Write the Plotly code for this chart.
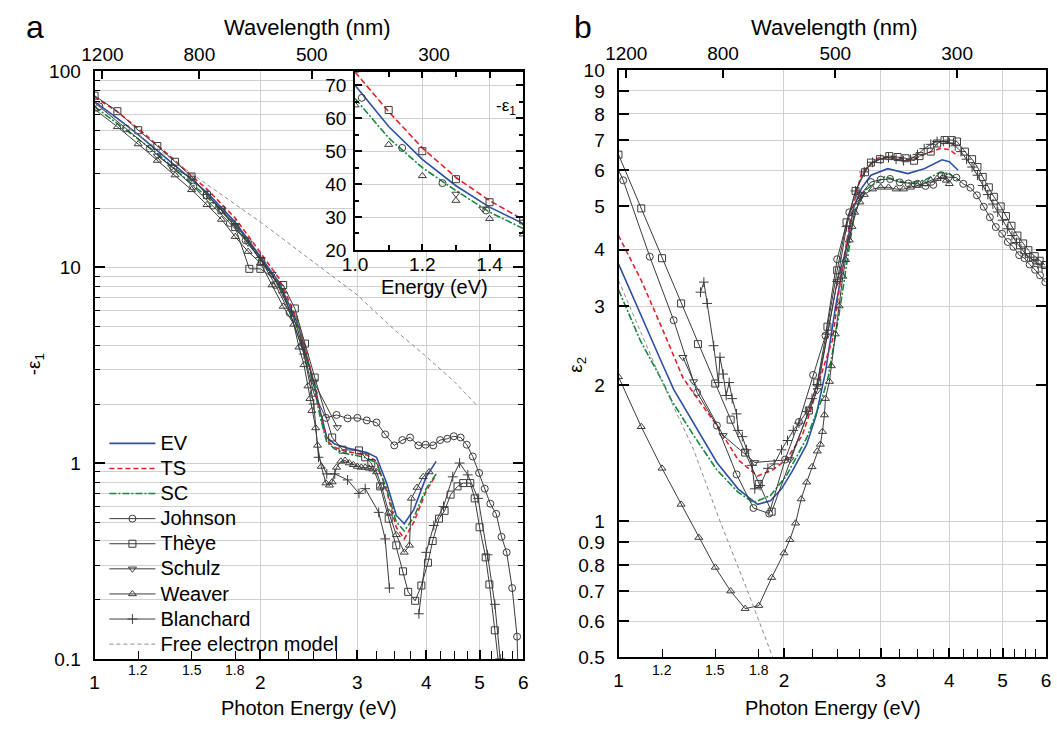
import math
import plotly.graph_objects as go

FONT = "Liberation Sans, Arial, sans-serif"
W, H = 1057, 736
DATA_COLOR = "#3c3c3c"
GRID = "#cfcfcf"
EV_COLOR = "#2e4fa3"
TS_COLOR = "#e3222b"
SC_COLOR = "#138a3d"
FREE_COLOR = "#8c8c8c"

# ---------------- data: panel a  (-eps1) ----------------
EV_E1 = [1.0, 1.1, 1.2, 1.3, 1.4, 1.5, 1.6, 1.8, 2.0, 2.16, 2.34, 2.44, 2.5, 2.57, 2.64, 2.73, 2.85, 3.0, 3.12,
         3.25, 3.39, 3.53, 3.65, 3.8, 4.0, 4.17]
EV_V1 = [70, 57.5, 47.5, 39.5, 33, 28, 24, 17, 11.4, 8.4, 5.1, 3.35, 2.6, 1.83, 1.35, 1.25, 1.2, 1.16, 1.13,
         1.07, 0.79, 0.54, 0.49, 0.58, 0.85, 1.02]
TS_V1 = [74, 62, 51, 42, 35, 29.2, 25, 17.8, 11.9, 8.8, 5.3, 3.4, 2.6, 1.75, 1.3, 1.2, 1.15, 1.12, 1.1,
         1.02, 0.72, 0.47, 0.41, 0.5, 0.72, 0.87]
SC_V1 = [66, 54, 45, 38, 31.5, 26.5, 22.8, 16.4, 11.0, 8.1, 4.9, 3.2, 2.5, 1.7, 1.28, 1.18, 1.12, 1.09, 1.06,
         1.0, 0.74, 0.5, 0.45, 0.53, 0.74, 0.88]

JOHNSON_E = [0.89, 1.02, 1.14, 1.26, 1.39, 1.51, 1.64, 1.76, 1.88, 2.01, 2.13, 2.26, 2.38, 2.50, 2.63, 2.75,
             2.88, 3.00, 3.12, 3.25, 3.37, 3.50, 3.62, 3.74, 3.87, 3.99, 4.12, 4.24, 4.37, 4.49, 4.62, 4.74,
             4.86, 4.99, 5.11, 5.23, 5.36, 5.48, 5.60, 5.73, 5.85, 5.98]
JOHNSON_V1 = [90.4, 66.2, 51.0, 40.3, 32.0, 25.8, 20.6, 16.8, 13.7, 10.7, 8.11, 5.84, 3.95, 2.28, 1.70, 1.76,
              1.69, 1.70, 1.65, 1.61, 1.40, 1.23, 1.31, 1.35, 1.23, 1.24, 1.23, 1.31, 1.33, 1.37, 1.35, 1.24,
              1.08, 0.89, 0.74, 0.62, 0.55, 0.42, 0.35, 0.23, 0.13, 0.01]

THEYE_E1 = [1.0, 1.1, 1.2, 1.3, 1.4, 1.5, 1.6, 1.7, 1.8, 1.91, 2.0, 2.2, 2.31, 2.41, 2.51, 2.7, 2.82, 3.02,
            3.1, 3.18, 3.3, 3.42, 3.53, 3.63, 3.71, 3.82, 3.92, 4.03, 4.11, 4.22, 4.32, 4.43, 4.56, 4.67,
            4.81, 4.9, 5.0, 5.13, 5.21, 5.33, 5.45]
THEYE_V1 = [75, 62.5, 50, 41.5, 34.5, 29, 23.3, 19.5, 16, 9.8, 9.8, 8.1, 6.15, 4.07, 2.73, 1.35, 1.17, 1.16,
            1.07, 1.0, 0.76, 0.52, 0.38, 0.28, 0.22, 0.198, 0.237, 0.31, 0.40, 0.52, 0.57, 0.69, 0.76, 0.79,
            0.79, 0.66, 0.47, 0.33, 0.24, 0.14, 0.08]

SCHULZ_E1 = [1.3, 1.38, 1.5, 1.7, 1.9, 2.1, 2.3, 2.5, 2.76]
SCHULZ_V1 = [37, 32.5, 28.5, 19.5, 13.3, 9.2, 5.5, 2.6, 1.52]

WEAVER_E1 = [1.0, 1.1, 1.2, 1.3, 1.4, 1.5, 1.6, 1.7, 1.8, 1.9, 2.0, 2.1, 2.2, 2.3, 2.35, 2.4, 2.44, 2.46,
             2.48, 2.52, 2.54, 2.58, 2.63, 2.67, 2.7, 2.75, 2.8, 2.85, 2.9, 2.95, 3.0, 3.05, 3.1, 3.15, 3.2,
             3.25, 3.32, 3.42, 3.53, 3.65, 3.73, 3.76, 3.85, 3.95, 4.05]
WEAVER_V1 = [64, 52, 42.5, 35, 29.5, 24.8, 20.8, 17.5, 14.3, 12.0, 10.5, 8.1, 6.3, 5.1, 3.9, 3.17, 2.47, 2.13,
             1.85, 1.51, 1.23, 0.96, 0.79, 0.77, 0.80, 0.95, 1.02, 1.03, 1.0, 0.98, 0.96, 0.95, 0.95, 0.94,
             0.93, 0.9, 0.76, 0.56, 0.43, 0.35, 0.38, 0.66, 0.75, 0.85, 0.9]

BLANCHARD_E1 = [1.6, 1.8, 2.0, 2.2, 2.4, 2.5, 2.55, 2.64, 2.73, 2.88, 3.02, 3.1, 3.28, 3.37, 3.43, None,
                3.88, 4.0, 4.13, 4.3, 4.47, 4.6, 4.76, 4.97, 5.17, 5.33, 5.45]
BLANCHARD_V1 = [23.5, 16.6, 11.2, 7.4, 3.6, 2.0, 1.07, 0.88, 0.88, 0.82, 0.70, 0.74, 0.56, 0.41, 0.23, None,
                0.17, 0.35, 0.48, 0.60, 0.85, 1.0, 0.87, 0.66, 0.34, 0.19, 0.10]

FREE_E1 = [1.0, 1.2, 1.5, 2.0, 2.5, 3.0, 3.5, 4.0, 4.5, 4.97]
FREE_V1 = [69, 47.5, 30, 17, 10.6, 7.2, 4.8, 3.5, 2.6, 1.94]

# ---------------- data: panel b  (eps2) ----------------
EV_E2 = [1.0, 1.095, 1.2, 1.26, 1.37, 1.51, 1.65, 1.79, 1.89, 1.98, 2.07, 2.2, 2.29, 2.35, 2.38, 2.48, 2.59,
         2.68, 2.77, 2.88, 3.09, 3.36, 3.6, 3.88, 4.0, 4.15]
EV_V2 = [3.72, 2.88, 2.24, 1.96, 1.65, 1.35, 1.18, 1.09, 1.11, 1.18, 1.29, 1.48, 1.72, 1.98, 2.14, 2.96, 3.99,
         4.97, 5.48, 5.85, 6.05, 5.9, 6.05, 6.33, 6.27, 6.0]
TS_E2 = [1.0, 1.1, 1.2, 1.31, 1.41, 1.51, 1.65, 1.79, 1.91, 2.02, 2.16, 2.25, 2.3, 2.45, 2.55, 2.66, 2.77,
         2.97, 3.13, 3.4, 3.65, 3.84, 4.0, 4.15]
TS_V2 = [4.30, 3.42, 2.68, 2.08, 1.83, 1.63, 1.37, 1.26, 1.30, 1.37, 1.55, 1.80, 1.99, 2.52, 3.61, 4.87, 5.94,
         6.39, 6.45, 6.3, 6.55, 6.7, 6.67, 6.45]
SC_E2 = [1.0, 1.095, 1.2, 1.25, 1.37, 1.51, 1.65, 1.76, 1.89, 2.02, 2.2, 2.35, 2.41, 2.52, 2.62, 2.69, 2.81,
         3.05, 3.36, 3.6, 3.84, 4.0, 4.15]
SC_V2 = [3.26, 2.52, 2.05, 1.85, 1.55, 1.30, 1.16, 1.10, 1.14, 1.26, 1.53, 1.88, 2.1, 2.88, 3.93, 4.87, 5.42,
         5.8, 5.62, 5.7, 5.93, 5.9, 5.7]

JOHNSON_V2 = [8.19, 5.70, 3.86, 2.79, 1.93, 1.63, 1.27, 1.07, 1.04, 1.37, 1.66, 2.11, 2.58, 3.81, 4.84, 5.28,
              5.65, 5.72, 5.74, 5.64, 5.61, 5.60, 5.54, 5.57, 5.85, 5.79, 5.78, 5.60, 5.49, 5.28, 4.98, 4.72,
              4.49, 4.34, 4.16, 4.06, 3.89, 3.83, 3.71, 3.61, 3.51, 3.39]

THEYE_E2 = [1.0, 1.1, 1.2, 1.3, 1.395, 1.5, 1.6, 1.7, 1.8, 1.9, 2.22, 2.3, 2.4, 2.5, 2.6, 2.7, 2.81, 2.88,
            2.99, 3.11, 3.22, 3.33, 3.45, 3.53, 3.7, 3.8, 3.92, 4.04, 4.13, 4.27, 4.4, 4.5, 4.6, 4.72, 4.82,
            4.96, 5.07, 5.19, 5.32, 5.45, 5.57, 5.72, 5.84, 5.97]
THEYE_V2 = [6.5, 4.94, 3.83, 3.04, 2.47, 2.02, 1.68, 1.42, 1.21, 1.05, 1.76, 2.03, 2.7, 3.6, 4.6, 5.4, 5.94,
            6.24, 6.35, 6.45, 6.42, 6.38, 6.3, 6.45, 6.6, 6.88, 7.0, 7.0, 6.95, 6.6, 6.35, 6.1, 5.8, 5.5,
            5.24, 4.99, 4.75, 4.52, 4.3, 4.13, 3.99, 3.87, 3.78, 3.7]

SCHULZ_E2 = [1.31, 1.37, 1.55, 1.77, 2.05, 2.3, 2.5, 2.76]
SCHULZ_V2 = [2.31, 2.04, 1.55, 1.35, 1.37, 1.95, 3.4, 5.3]

WEAVER_E2 = [1.0, 1.1, 1.2, 1.3, 1.4, 1.5, 1.6, 1.7, 1.8, 1.9, 2.0, 2.05, 2.1, 2.15, 2.2, 2.25, 2.3, 2.33,
             2.35, 2.37, 2.38, 2.42, 2.44, 2.48, 2.52, 2.56, 2.59, 2.63, 2.66, 2.69, 2.75, 2.8, 2.9, 3.0,
             3.1, 3.2, 3.3, 3.4, 3.5, 3.6, 3.7, 3.8, 3.9, 3.95, 4.0]
WEAVER_V2 = [2.09, 1.62, 1.31, 1.09, 0.92, 0.79, 0.70, 0.64, 0.65, 0.75, 0.85, 0.91, 0.99, 1.12, 1.22, 1.32,
             1.43, 1.48, 1.58, 1.72, 1.87, 2.04, 2.21, 2.6, 3.0, 3.49, 3.8, 4.2, 4.5, 4.84, 5.1, 5.3, 5.45,
             5.5, 5.5, 5.45, 5.45, 5.5, 5.55, 5.6, 5.7, 5.75, 5.8, 5.7, 5.6]

BLANCHARD_E2 = [1.41, 1.43, 1.45, 1.49, 1.52, 1.53, 1.55, 1.57, 1.59, 1.61, 1.64, 1.65, 1.68, 1.71, 1.75,
                1.77, 1.81, 1.87, 1.92, 1.98, 2.03, 2.08, 2.13, 2.2, 2.25, 2.3, 2.4, 2.5, 2.6, 2.7, 2.8,
                2.9, 3.0, 3.1, 3.2, 3.3, 3.4, 3.5, 3.6, 3.7, 3.8, 3.9, 4.0, 4.1, 4.2, 4.3, 4.4, 4.5, 4.6,
                4.7, 4.8, 4.9, 5.0, 5.1, 5.2, 5.3, 5.4, 5.5, 5.6, 5.7, 5.8, 5.9]
BLANCHARD_V2 = [3.22, 3.39, 3.04, 2.45, 2.03, 2.31, 2.12, 1.9, 2.03, 1.87, 1.73, 1.59, 1.54, 1.44, 1.33,
                1.18, 1.2, 1.31, 1.34, 1.44, 1.51, 1.59, 1.65, 1.75, 1.87, 2.01, 2.6, 3.4, 4.5, 5.4, 5.95,
                6.25, 6.35, 6.4, 6.35, 6.3, 6.35, 6.5, 6.7, 6.85, 6.95, 6.95, 6.9, 6.8, 6.6, 6.35, 6.1,
                5.85, 5.55, 5.3, 5.05, 4.85, 4.65, 4.45, 4.3, 4.15, 4.02, 3.92, 3.85, 3.78, 3.72, 3.66]

FREE_E2 = [1.0, 1.2, 1.37, 1.53, 1.71, 1.91, 2.0]
FREE_V2 = [3.42, 2.04, 1.44, 1.0, 0.71, 0.5, 0.43]

# ---------------- tick labels ----------------
X_MAJOR = [1, 2, 3, 4, 5, 6]
X_SMALL_LABELS = [1.2, 1.5, 1.8]
X_MINOR = [1.2, 1.5, 1.8, 2.25, 2.5, 2.75, 3.25, 3.5, 3.75, 4.25, 4.5, 4.75, 5.25, 5.5, 5.75]
WAVELENGTHS = [1200, 800, 500, 300]
WL_E = [1239.84 / w for w in WAVELENGTHS]
LEFT_Y_TICKS = [0.1, 1, 10, 100]
LEFT_Y_TEXT = ["0.1", "1", "10", "100"]
LEFT_Y_MINOR = [0.2, 0.3, 0.4, 0.5, 0.6, 0.7, 0.8, 0.9, 2, 3, 4, 5, 6, 7, 8, 9, 20, 30, 40, 50, 60, 70, 80, 90]
RIGHT_Y_TICKS = [0.5, 0.6, 0.7, 0.8, 0.9, 1, 2, 3, 4, 5, 6, 7, 8, 9, 10]
INSET_X_TICKS = [1.0, 1.2, 1.4]
INSET_Y_TICKS = [20, 30, 40, 50, 60, 70]

LEFT_X = [83 / W, 519 / W]
LEFT_Y = [1 - 668 / H, 1 - 63 / H]
RIGHT_X = [616 / W, 1051 / W]
RIGHT_Y = [1 - 666 / H, 1 - 62 / H]
INSET_X = [348 / W, 519 / W]
INSET_Y = [1 - 247 / H, 1 - 64 / H]

LEGEND_TEXT_SIZE = 20

fig = go.Figure()


def legend_name(name):
    return '<span style="font-size:%dpx">%s</span>' % (LEGEND_TEXT_SIZE, name)


def curve(x, y, color, dash, name, xa, ya, legend):
    fig.add_trace(go.Scatter(x=x, y=y, mode="lines", name=legend_name(name), showlegend=legend,
                             line=dict(color=color, width=1.6, dash=dash), xaxis=xa, yaxis=ya,
                             hoverinfo="skip"))


def series(x, y, symbol, name, xa, ya, legend, mode="lines+markers"):
    fig.add_trace(go.Scatter(x=x, y=y, mode=mode, name=legend_name(name), showlegend=legend,
                             line=dict(color=DATA_COLOR, width=1),
                             marker=dict(symbol=symbol, size=7, color=DATA_COLOR,
                                         line=dict(color=DATA_COLOR, width=1)),
                             xaxis=xa, yaxis=ya, connectgaps=False, hoverinfo="skip"))


TS_DASH = "5px,3px"
SC_DASH = "7px,2px,2px,2px"
FREE_DASH = "4px,3px"

# panel a
curve(EV_E1, EV_V1, EV_COLOR, "solid", "EV", "x", "y", True)
curve(EV_E1, TS_V1, TS_COLOR, TS_DASH, "TS", "x", "y", True)
curve(EV_E1, SC_V1, SC_COLOR, SC_DASH, "SC", "x", "y", True)
series(JOHNSON_E, JOHNSON_V1, "circle-open", "Johnson", "x", "y", True)
series(THEYE_E1, THEYE_V1, "square-open", "Thèye", "x", "y", True)
series(SCHULZ_E1, SCHULZ_V1, "triangle-down-open", "Schulz", "x", "y", True)
series(WEAVER_E1, WEAVER_V1, "triangle-up-open", "Weaver", "x", "y", True)
series(BLANCHARD_E1, BLANCHARD_V1, "cross-thin-open", "Blanchard", "x", "y", True)
fig.add_trace(go.Scatter(x=FREE_E1, y=FREE_V1, mode="lines", name=legend_name("Free electron model"),
                         line=dict(color=FREE_COLOR, width=1, dash=FREE_DASH), xaxis="x", yaxis="y",
                         hoverinfo="skip"))

# panel b
curve(EV_E2, EV_V2, EV_COLOR, "solid", "EV", "x2", "y2", False)
curve(TS_E2, TS_V2, TS_COLOR, TS_DASH, "TS", "x2", "y2", False)
curve(SC_E2, SC_V2, SC_COLOR, SC_DASH, "SC", "x2", "y2", False)
series(JOHNSON_E, JOHNSON_V2, "circle-open", "Johnson", "x2", "y2", False)
series(THEYE_E2, THEYE_V2, "square-open", "Thèye", "x2", "y2", False)
series(SCHULZ_E2, SCHULZ_V2, "triangle-down-open", "Schulz", "x2", "y2", False)
series(WEAVER_E2, WEAVER_V2, "triangle-up-open", "Weaver", "x2", "y2", False)
series(BLANCHARD_E2, BLANCHARD_V2, "cross-thin-open", "Blanchard", "x2", "y2", False)
fig.add_trace(go.Scatter(x=FREE_E2, y=FREE_V2, mode="lines", showlegend=False,
                         line=dict(color=FREE_COLOR, width=1, dash=FREE_DASH), xaxis="x2", yaxis="y2",
                         hoverinfo="skip"))

# inset
curve(EV_E1, EV_V1, EV_COLOR, "solid", "EV", "x5", "y5", False)
curve(EV_E1, TS_V1, TS_COLOR, "6px,3px", "TS", "x5", "y5", False)
curve(EV_E1, SC_V1, SC_COLOR, SC_DASH, "SC", "x5", "y5", False)
series(JOHNSON_E, JOHNSON_V1, "circle-open", "Johnson", "x5", "y5", False, mode="markers")
series(THEYE_E1, THEYE_V1, "square-open", "Thèye", "x5", "y5", False, mode="markers")
series(SCHULZ_E1, SCHULZ_V1, "triangle-down-open", "Schulz", "x5", "y5", False, mode="markers")
series(WEAVER_E1, WEAVER_V1, "triangle-up-open", "Weaver", "x5", "y5", False, mode="markers")

# anchors for top wavelength axes
for xa, ya in (("x3", "y"), ("x4", "y2")):
    fig.add_trace(go.Scatter(x=WL_E, y=[None] * len(WL_E), mode="markers", showlegend=False,
                             xaxis=xa, yaxis=ya, hoverinfo="skip"))

tickfont = dict(size=19, family=FONT, color="black")
XR = [0, math.log10(6)]


def bottom_x(domain, anchor):
    return dict(type="log", range=XR, domain=domain, anchor=anchor, tickmode="array",
                tickvals=X_MAJOR, ticktext=[str(v) for v in X_MAJOR], ticks="inside", ticklen=9,
                tickwidth=1.5, tickcolor="black", showline=True, linewidth=2, linecolor="black",
                mirror=True, showgrid=True, gridcolor=GRID, gridwidth=1, zeroline=False,
                tickfont=tickfont, ticklabelstandoff=5,
                minor=dict(tickmode="array", tickvals=X_MINOR, ticks="inside", ticklen=8,
                           tickwidth=1.2, tickcolor="black", showgrid=False))


def top_x(over, anchor):
    return dict(type="log", range=XR, overlaying=over, anchor=anchor, side="top", tickmode="array",
                tickvals=WL_E, ticktext=[str(w) for w in WAVELENGTHS], ticks="inside", ticklen=8,
                tickwidth=1.5, tickcolor="black", showline=False, showgrid=False, zeroline=False,
                tickfont=dict(size=19, family=FONT, color="black"), ticklabelstandoff=5)


fig.update_layout(
    width=W, height=H, margin=dict(l=0, r=0, t=0, b=0),
    paper_bgcolor="white", plot_bgcolor="white",
    font=dict(family=FONT, color="black"),
    xaxis=bottom_x(LEFT_X, "y"),
    xaxis2=bottom_x(RIGHT_X, "y2"),
    xaxis3=top_x("x", "y"),
    xaxis4=top_x("x2", "y2"),
    yaxis=dict(type="log", range=[-1, 2], domain=LEFT_Y, anchor="x", tickmode="array",
               tickvals=LEFT_Y_TICKS, ticktext=LEFT_Y_TEXT, ticks="inside", ticklen=10, tickwidth=1.5,
               tickcolor="black", showline=True, linewidth=2, linecolor="black", mirror="ticks",
               showgrid=True, gridcolor=GRID, gridwidth=1, zeroline=False, tickfont=tickfont,
               ticklabelstandoff=8,
               minor=dict(tickmode="array", tickvals=LEFT_Y_MINOR, ticks="inside", ticklen=5,
                          tickcolor="black", tickwidth=1, showgrid=True, gridcolor=GRID, gridwidth=1)),
    yaxis2=dict(type="log", range=[math.log10(0.5), 1], domain=RIGHT_Y, anchor="x2", tickmode="array",
                tickvals=RIGHT_Y_TICKS, ticktext=[("%g" % v) for v in RIGHT_Y_TICKS], ticks="inside",
                ticklen=10, tickwidth=1.5, tickcolor="black", showline=True, linewidth=2,
                linecolor="black", mirror="ticks", showgrid=True, gridcolor=GRID, gridwidth=1,
                zeroline=False, tickfont=tickfont, ticklabelstandoff=8),
    xaxis5=dict(range=[1.0, 1.5], domain=INSET_X, anchor="y5", tickmode="array", tickvals=INSET_X_TICKS,
                ticktext=["%.1f" % v for v in INSET_X_TICKS], ticks="inside", ticklen=6, tickwidth=1.5,
                tickcolor="black", showline=True, linewidth=2, linecolor="black", mirror="ticks",
                showgrid=True, gridcolor=GRID, zeroline=False, tickfont=tickfont, ticklabelstandoff=-4,
                minor=dict(dtick=0.1, tick0=1.0, ticks="inside", ticklen=5, tickcolor="black",
                           showgrid=False)),
    yaxis5=dict(range=[20, 74], domain=INSET_Y, anchor="x5", tickmode="array", tickvals=INSET_Y_TICKS,
                ticktext=[str(v) for v in INSET_Y_TICKS], ticks="inside", ticklen=7, tickwidth=1.5,
                tickcolor="black", showline=True, linewidth=2, linecolor="black", mirror="ticks",
                showgrid=True, gridcolor=GRID, zeroline=False, tickfont=tickfont, ticklabelstandoff=3,
                minor=dict(dtick=5, tick0=0, ticks="inside", ticklen=4, tickcolor="black",
                           showgrid=False)),
    legend=dict(x=93 / W, y=1 - 428 / H, xanchor="left", yanchor="top", bgcolor="rgba(0,0,0,0)",
                font=dict(size=17, family=FONT, color="black"), tracegroupgap=0, itemwidth=46),
    shapes=[dict(type="rect", xref="x5", yref="y5", x0=1.0, x1=1.5, y0=20, y1=74, layer="below",
                 fillcolor="white", line=dict(width=0))],
)


def ann(text, px, py, size, angle=0, **kw):
    d = dict(text=text, x=px / W, y=1 - py / H, xref="paper", yref="paper", showarrow=False,
             font=dict(size=size, family=FONT, color="black"), textangle=angle,
             xanchor="center", yanchor="middle")
    d.update(kw)
    fig.add_annotation(**d)


ann("a", 22, 18, 32)
ann("b", 580, 18, 32)
ann("Wavelength (nm)", 300, 18, 22)
ann("Wavelength (nm)", 836, 18, 22)
ann("Photon Energy (eV)", 301, 719, 20)
ann("Photon Energy (eV)", 834, 719, 20)
ann("-ε<sub>1</sub>", 22, 365, 19, angle=-90)
ann("ε<sub>2</sub>", 573, 365, 19, angle=-90)
ann("Energy (eV)", 429, 285, 20)
ann("-ε<sub>1</sub>", 502, 100, 17)

for xr in ("x", "x2"):
    for v in X_SMALL_LABELS:
        fig.add_annotation(text=("%g" % v), x=math.log10(v), y=1 - 679 / H, xref=xr, yref="paper",
                           showarrow=False, font=dict(size=14, family=FONT, color="black"),
                           xanchor="center", yanchor="middle")

fig.write_html("out.html")
